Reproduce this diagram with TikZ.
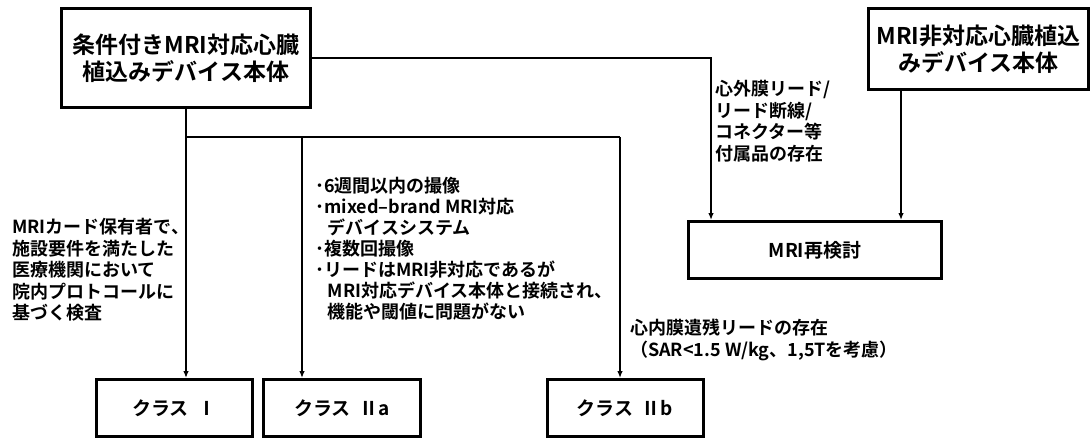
\documentclass[tikz,border=0pt]{standalone}
\usepackage{fontspec}
\setmainfont{Noto Sans CJK JP Bold}
\usepackage{tikz}
\usetikzlibrary{arrows.meta}

\tikzset{
  mainbox/.style={draw, line width=3pt, align=center, inner sep=0pt, font=\fontsize{23}{27}\selectfont},
  classbox/.style={draw, line width=3pt, inner sep=0pt, minimum width=156pt, minimum height=57pt, font=\fontsize{19}{22}\selectfont},
  note/.style={align=left, inner sep=0pt, anchor=north west, font=\fontsize{18}{21.5}\selectfont},
  flow/.style={line width=1.3pt, -{Latex[length=7pt,width=5.5pt]}},
}

\begin{document}
\begin{tikzpicture}[x=1pt, y=-1pt]
    \useasboundingbox (0,0) rectangle (1091,439);

    % device boxes
    \node[mainbox, minimum width=249pt, minimum height=99pt] (condmri) at (186,58) {条件付きMRI対応心臓\\植込みデバイス本体};
    \node[mainbox, minimum width=220pt, minimum height=81pt] (nonmri) at (978.5,49) {MRI非対応心臓植込\\みデバイス本体};
    \node[classbox, minimum width=253pt] (review) at (815,250) {MRI再検討};

    % classes
    \node[classbox] (classI) at (174.5,408) {クラス\ \ Ⅰ};
    \node[classbox, minimum width=157pt] (classIIa) at (342,408) {クラス\ \ Ⅱa};
    \node[classbox] (classIIb) at (625,408) {クラス\ \ Ⅱb};

    % notes
    \node[note] (noteI) at (12,218) {MRIカード保有者で、\\施設要件を満たした\\医療機関において\\院内プロトコールに\\基づく検査};
    \node[note, font=\fontsize{18}{21}\selectfont] (noteIIa) at (315,177) {･6週間以内の撮像\\･mixed–brand MRI対応\\\hspace*{0.7em}デバイスシステム\\･複数回撮像\\･リードはMRI非対応であるが\\\hspace*{0.7em}MRI対応デバイス本体と接続され、\\\hspace*{0.7em}機能や閾値に問題がない};
    \node[note] (noteIIb) at (630,319) {心内膜遺残リードの存在\\（SAR<1.5 W/kg、1,5Tを考慮）};
    \node[note] (notereview) at (715,80) {心外膜リード/\\リード断線/\\コネクター等\\付属品の存在};

    % connectors
    \coordinate (busL) at (186,137);
    \coordinate (busIIa) at (302,137);
    \coordinate (busR) at (620,137);
    \coordinate (turn) at (711,58);
    \coordinate (dropR) at (901,91);
    \draw[flow] (condmri.south) -- (condmri.south |- classI.north);
    \draw[line width=1.3pt] (busL) -- (busR);
    \draw[flow] (busIIa) -- (busIIa |- classIIa.north);
    \draw[flow] (busR) -- (busR |- classIIb.north);
    \draw[flow] (condmri.east) -- (turn) -- (turn |- review.north);
    \draw[flow] (nonmri.south -| dropR) -- (dropR |- review.north);
  \end{tikzpicture}
\end{document}
